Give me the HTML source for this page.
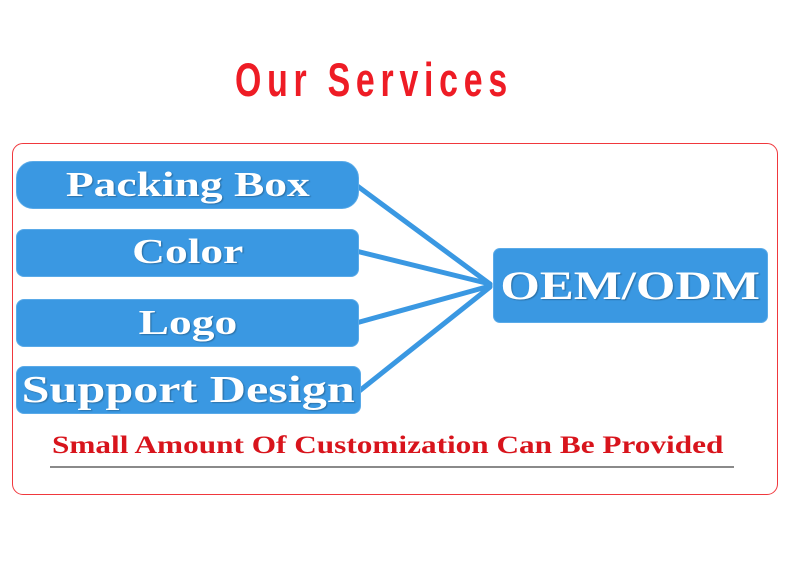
<!DOCTYPE html>
<html><head><meta charset="utf-8"><style>
body{margin:0;width:790px;height:584px;background:#fff;position:relative;overflow:hidden}
.t{position:absolute;left:235px;top:52px;font:bold 47px "Liberation Sans",sans-serif;color:#ee1c25;letter-spacing:8px;white-space:nowrap;transform:scaleX(0.72);transform-origin:0 0}
.frame{position:absolute;left:12px;top:143px;width:764px;height:350px;border:1.5px solid #f0383d;border-radius:11px}
.b{position:absolute;background:#3a98e2;color:#fff;font:bold 35px "Liberation Serif",serif;text-align:center;white-space:nowrap;border:1px solid #5aaae8;box-sizing:border-box;text-shadow:1px 1px 1px rgba(0,0,0,.25)}
.b span{display:inline-block;transform:scaleX(1.3)}
.s{position:absolute;left:52px;top:432px;font:bold 25px "Liberation Serif",serif;color:#d8141c;white-space:nowrap;transform:scaleX(1.25);transform-origin:0 0}
.u{position:absolute;left:50px;top:466px;width:684px;height:2px;background:#8a8a8a}
</style></head><body>
<div class="t">Our Services</div>
<div class="frame"></div>
<svg style="position:absolute;left:0;top:0" width="790" height="584">
<g stroke="#3a98e2" stroke-width="5" fill="none" stroke-linecap="round">
<line x1="356" y1="185" x2="490" y2="284"/>
<line x1="356" y1="251" x2="490" y2="284"/>
<line x1="356" y1="323" x2="490" y2="286"/>
<line x1="358" y1="392" x2="490" y2="287"/>
</g></svg>
<div class="b" style="left:16px;top:161px;width:343px;height:48px;border-radius:17px;line-height:46px"><span>Packing Box</span></div>
<div class="b" style="left:16px;top:229px;width:343px;height:48px;border-radius:8px;line-height:44px"><span>Color</span></div>
<div class="b" style="left:16px;top:299px;width:343px;height:48px;border-radius:8px;line-height:46px"><span>Logo</span></div>
<div class="b" style="left:16px;top:366px;width:345px;height:48px;border-radius:8px;line-height:46px;font-size:38px"><span style="transform:scaleX(1.32)">Support Design</span></div>
<div class="b" style="left:493px;top:248px;width:275px;height:75px;border-radius:7px;line-height:74px;font-size:40px"><span style="transform:scaleX(1.27)">OEM/ODM</span></div>
<div class="s">Small Amount Of Customization Can Be Provided</div>
<div class="u"></div>
</body></html>
